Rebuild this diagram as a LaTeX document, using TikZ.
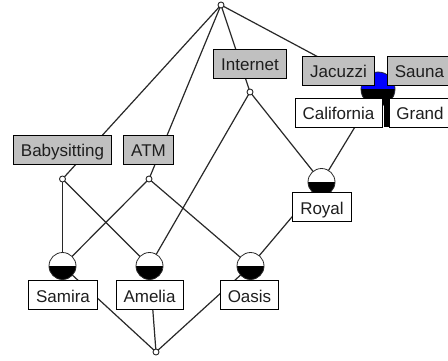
\documentclass[tikz,border=0pt]{standalone}
\usepackage{fontspec}
\setmainfont{Liberation Sans}
\usetikzlibrary{backgrounds}
\definecolor{attrfill}{RGB}{192,192,192}
\definecolor{edgecol}{RGB}{40,40,40}
\definecolor{textcol}{RGB}{30,30,30}
\begin{document}
\begin{tikzpicture}[x=1pt,y=-1pt,
  edgeline/.style={draw=edgecol, line width=1.2pt},
  point/.style={circle, draw=edgecol, fill=white, line width=0.9pt,
    inner sep=0pt, minimum size=6pt},
  concept/.style={circle, draw=edgecol, fill=white, line width=0.8pt,
    inner sep=0pt, minimum size=27pt,
    path picture={\fill[black] (path picture bounding box.west)
      rectangle (path picture bounding box.south east);}},
  attrbox/.style={draw=black, line width=0.8pt, fill=attrfill,
    font=\fontsize{17}{20}\selectfont, text=textcol,
    inner xsep=7.5pt, inner ysep=0pt, minimum height=29pt,
    text height=14.5pt, text depth=0pt},
  objbox/.style={attrbox, fill=white}
]
\clip (0,0) rectangle (448,360);
\useasboundingbox (0,0) rectangle (448,360);

% concepts of the lattice
\node[point] (top) at (221,5) {};
\node[point] (internet) at (250,92) {};
\node[point] (babysit) at (62.5,179) {};
\node[point] (atm) at (149,179) {};
\node[concept, fill=blue, minimum size=34pt] (spa) at (378,89) {};
\node[concept] (royal) at (321.5,182) {};
\node[concept] (samira) at (62.5,266) {};
\node[concept] (amelia) at (149.5,266) {};
\node[concept] (oasis) at (250.5,266) {};
\node[point] (bottom) at (156,352) {};

% black gap below the selected concept
\fill[black] (383.5,89) rectangle (388.5,127);

% attribute labels
\node[attrbox] (lInternet) at (250,63.5) {Internet};
\node[attrbox] (lJacuzzi) at (338.5,70.5) {Jacuzzi};
\node[attrbox, anchor=west] (lSauna) at (387,70.5) {Sauna};
\node[attrbox] (lBaby) at (62.5,149.5) {Babysitting};
\node[attrbox] (lAtm) at (148.5,149.5) {ATM};

% object labels
\node[objbox] (lCalifornia) at (338.5,112.5) {California};
\node[objbox, anchor=west] (lGrand) at (388.5,112.5) {Grand};
\node[objbox] (lRoyal) at (322,207) {Royal};
\node[objbox] (lSamira) at (63,295) {Samira};
\node[objbox] (lAmelia) at (149.5,295) {Amelia};
\node[objbox] (lOasis) at (249.5,295) {Oasis};

\begin{pgfonlayer}{background}
  \fill[white] (0,0) rectangle (448,360);
  \draw[edgeline] (top.center) -- (babysit.center);
  \draw[edgeline] (top.center) -- (atm.center);
  \draw[edgeline] (top.center) -- (internet.center);
  \draw[edgeline] (top.center) -- (spa.center);
  \draw[edgeline] (babysit.center) -- (samira.center);
  \draw[edgeline] (babysit.center) -- (amelia.center);
  \draw[edgeline] (atm.center) -- (samira.center);
  \draw[edgeline] (atm.center) -- (oasis.center);
  \draw[edgeline] (internet.center) -- (amelia.center);
  \draw[edgeline] (internet.center) -- (royal.center);
  \draw[edgeline] (spa.center) -- (royal.center);
  \draw[edgeline] (royal.center) -- (oasis.center);
  \draw[edgeline] (samira.center) -- (bottom.center);
  \draw[edgeline] (amelia.center) -- (bottom.center);
  \draw[edgeline] (oasis.center) -- (bottom.center);
\end{pgfonlayer}
\end{tikzpicture}
\end{document}
